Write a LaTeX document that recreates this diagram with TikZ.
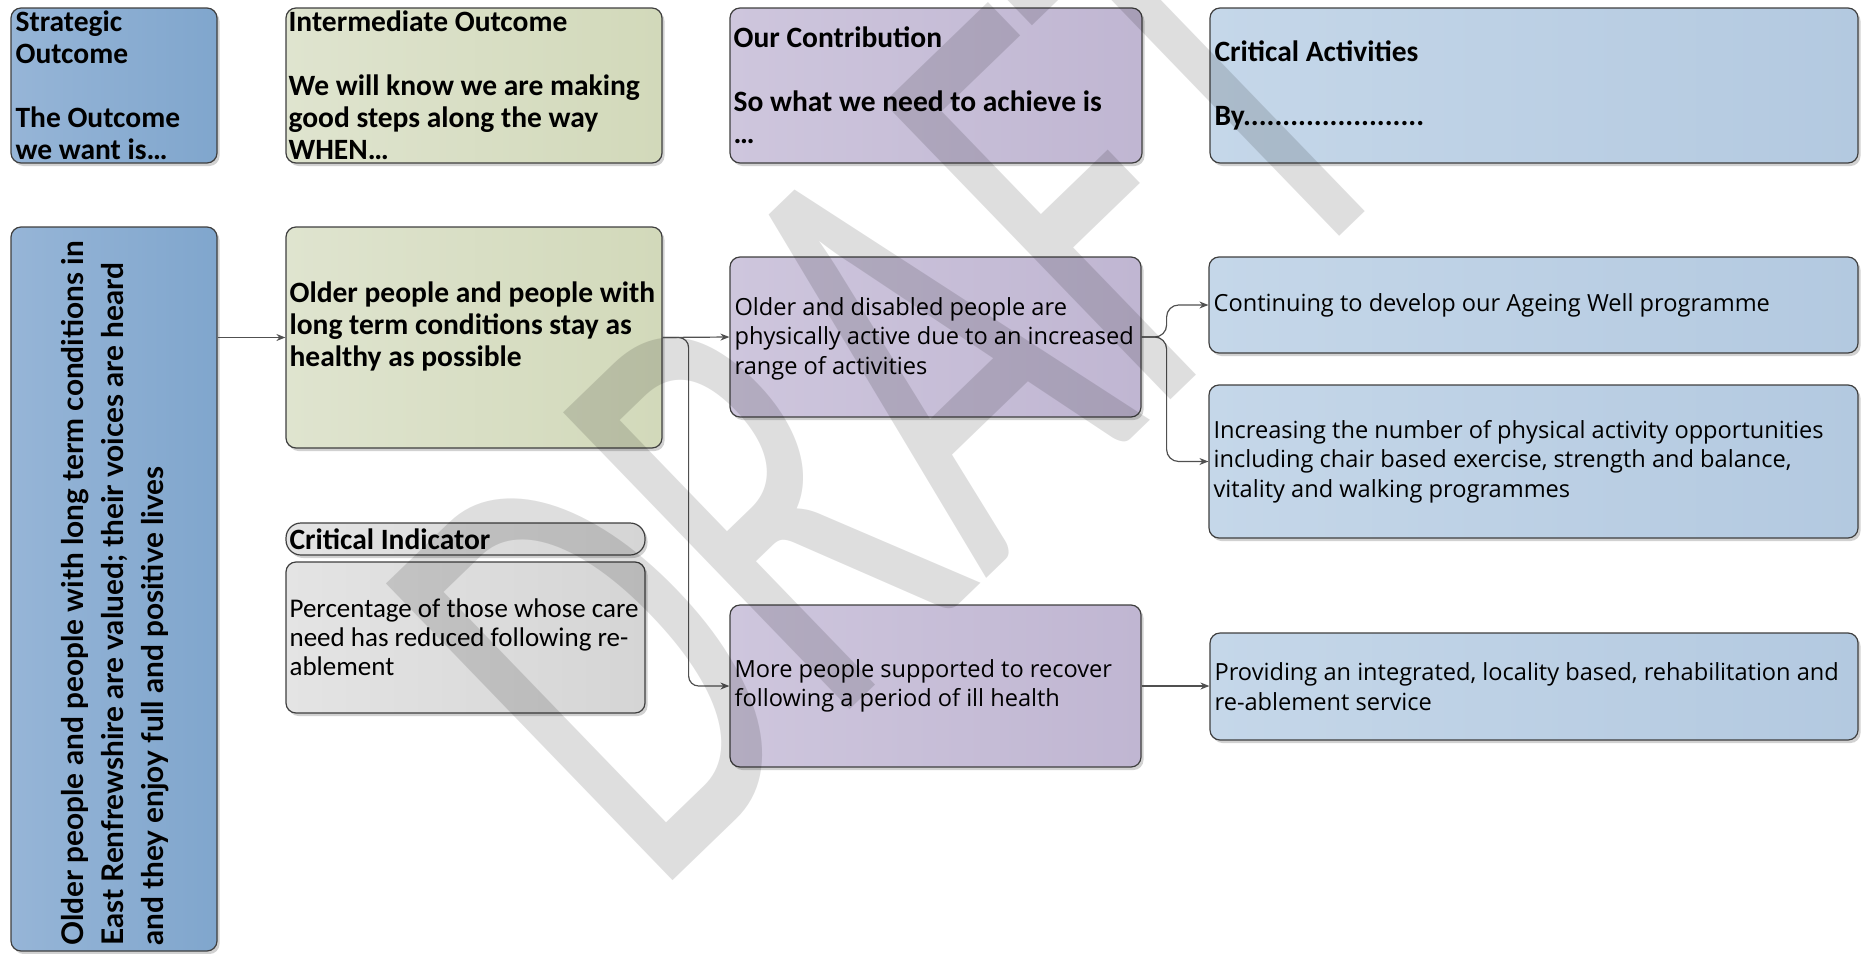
\documentclass[tikz,border=0pt]{standalone}
\usepackage{fontspec}
\setmainfont{Carlito}
\newfontfamily\osans{Open Sans}
\newfontfamily\lato{Lato}
\usetikzlibrary{shadows,arrows.meta}
\definecolor{linec}{HTML}{3F3F3F}
\definecolor{connc}{HTML}{505050}
\definecolor{sL}{HTML}{96B5D7}
\definecolor{sR}{HTML}{80A6CD}
\definecolor{gL}{HTML}{DFE4CF}
\definecolor{gR}{HTML}{D2D9BA}
\definecolor{pL}{HTML}{CEC6DD}
\definecolor{pR}{HTML}{C0B6D2}
\definecolor{bL}{HTML}{C5D7E9}
\definecolor{bR}{HTML}{B3C9E0}
\definecolor{iL}{HTML}{E4E4E4}
\definecolor{iR}{HTML}{D5D5D5}
\tikzset{
  box/.style={draw=linec, line width=1.2pt, rounded corners=10pt, inner sep=0pt,
    drop shadow={shadow xshift=2.5pt, shadow yshift=-3pt, opacity=0.18, fill=black}},
  sbox/.style={box, left color=sL, right color=sR},
  gbox/.style={box, left color=gL, right color=gR},
  pbox/.style={box, left color=pL, right color=pR},
  bbox/.style={box, left color=bL, right color=bR},
  ibox/.style={box, left color=iL, right color=iR},
  hdr/.style={font=\fontsize{29.5}{32}\selectfont\bfseries, align=left, inner sep=0pt, anchor=west},
  body/.style={font=\osans\fontsize{23.6}{29.5}\selectfont, align=left, inner sep=0pt, anchor=west},
  ibody/.style={font=\fontsize{27}{29}\selectfont, align=left, inner sep=0pt, anchor=west},
  vtext/.style={font=\lato\bfseries\fontsize{29.8}{40}\selectfont, align=left, inner sep=0pt},
  conn/.style={draw=connc, line width=1.2pt, -{Stealth[length=9pt,width=7pt]}},
  wm/.style={font=\fontsize{643}{650}\selectfont, text=black, text opacity=0.13, inner sep=0pt},
}
\begin{document}
\begin{tikzpicture}[x=1pt,y=-1pt]
\useasboundingbox (0,0) rectangle (1868,953);
% header row
\node[sbox, minimum width=206pt, minimum height=155pt] (strath) at (114,85.5) {};
\node[gbox, minimum width=376pt, minimum height=155pt] (interh) at (474,85.5) {};
\node[pbox, minimum width=412pt, minimum height=155pt] (contribh) at (936,85.5) {};
\node[bbox, minimum width=648pt, minimum height=155pt] (acth) at (1534,85.5) {};
\node[hdr] (strath-t) at ([xshift=5pt]strath.west) {Strategic\\Outcome\\[32pt]The Outcome\\we want is…};
\node[hdr] (interh-t) at ([xshift=3pt]interh.west) {Intermediate Outcome\\[32pt]We will know we are making\\good steps along the way\\WHEN…};
\node[hdr] (contribh-t) at ([xshift=4pt]contribh.west) {Our Contribution\\[32pt]So what we need to achieve is\\…};
\node[hdr] (acth-t) at ([xshift=5pt]acth.west) {Critical Activities\\[32pt]By.......................};
% main row
\node[sbox, minimum width=206pt, minimum height=724pt] (strat) at (114,589) {};
\node[vtext, rotate=90, anchor=north west] (strat-t) at (61,946) {Older people and people with long term conditions in\\East Renfrewshire are valued; their voices are heard\\and they enjoy full and positive lives};
\node[gbox, minimum width=376pt, minimum height=221pt] (green) at (474,337.5) {};
\node[hdr] (green-t) at ([xshift=4pt,yshift=11pt]green.west) {Older people and people with\\long term conditions stay as\\healthy as possible};
\node[ibox, rounded corners=15pt, minimum width=359pt, minimum height=32pt] (indh) at (465.5,539) {};
\node[hdr] (indh-t) at ([xshift=4pt]indh.west) {Critical Indicator};
\node[ibox, minimum width=359pt, minimum height=151pt] (ind) at (465.5,637.5) {};
\node[ibody] (ind-t) at ([xshift=4pt]ind.west) {Percentage of those whose care\\need has reduced following re-\\ablement};
\node[pbox, minimum width=411pt, minimum height=160pt] (p1) at (935.5,337) {};
\node[body] (p1-t) at ([xshift=5pt,yshift=-1.5pt]p1.west) {Older and disabled people are\\physically active due to an increased\\range of activities};
\node[pbox, minimum width=411pt, minimum height=162pt] (p2) at (935.5,686) {};
\node[body] (p2-t) at ([xshift=5pt]p2.west) {More people supported to recover\\following a period of ill health};
\node[bbox, minimum width=649pt, minimum height=96pt] (b1) at (1533.5,305) {};
\node[body] (b1-t) at ([xshift=5pt]b1.west) {Continuing to develop our Ageing Well programme};
\node[bbox, minimum width=649pt, minimum height=153pt] (b2) at (1533.5,461.5) {};
\node[body] (b2-t) at ([xshift=5pt]b2.west) {Increasing the number of physical activity opportunities\\including chair based exercise, strength and balance,\\vitality and walking programmes};
\node[bbox, minimum width=648pt, minimum height=107pt] (b3) at (1534,686.5) {};
\node[body] (b3-t) at ([xshift=5pt]b3.west) {Providing an integrated, locality based, rehabilitation and\\re-ablement service};
% connectors
\draw[conn] (strat.east |- green.west) -- (green.west);
\draw[conn] (green.east) -- (p1.west);
\draw[conn, rounded corners=10pt] (green.east) -- ++(26,0) |- (p2.west);
\draw[conn, rounded corners=12pt] (p1.east) -- ++(25,0) |- (b1.west);
\draw[conn, rounded corners=12pt] (p1.east) -- ++(25,0) |- (b2.west);
\draw[conn] (p2.east) -- (p2.east -| b3.west);
% watermark
\node[wm, rotate=44, anchor=base west] (draft) at (653,900) {\scalebox{0.62}[1]{DRAFT}};
\end{tikzpicture}
\end{document}
